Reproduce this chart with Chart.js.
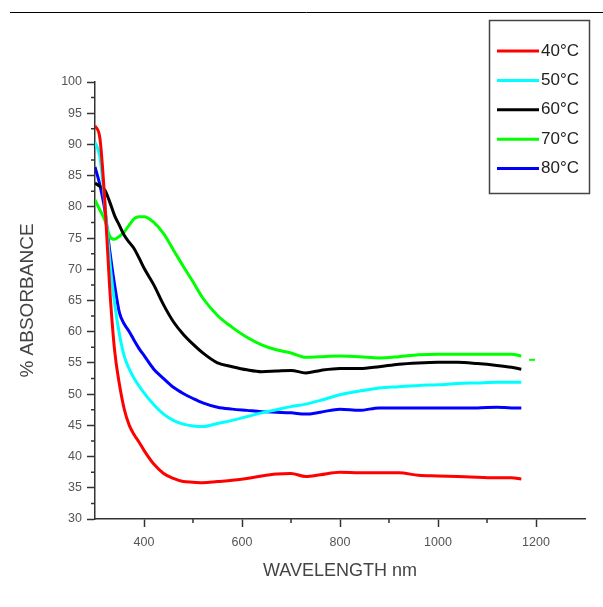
<!DOCTYPE html>
<html>
<head>
<meta charset="utf-8">
<script src="https://cdn.jsdelivr.net/npm/chart.js@4"></script>
<style>
  html, body { margin: 0; padding: 0; background: #fff; }
  canvas { display: block; }
</style>
</head>
<body>
<canvas id="absChart" width="603" height="607"></canvas>
<script>
// wavelength grid (nm) shared by all five curves
const wavelengths = [300, 310, 320, 330, 340, 350, 360, 370, 380, 390, 400, 420, 440, 460, 480,
    500, 520, 550, 580, 610, 640, 670, 700, 730, 760, 800, 840, 880, 920, 960, 1000, 1040, 1080, 1120, 1150, 1170];

const abs40 = [93.0, 91.0, 81.0, 67.0, 57.0, 51.5, 47.5, 45.0, 43.5, 42.3, 41.0, 38.8, 37.3, 36.5, 36.0,
    35.9, 35.8, 36.0, 36.2, 36.5, 36.9, 37.2, 37.3, 36.8, 37.1, 37.5, 37.4, 37.4, 37.4, 37.0, 36.9, 36.8, 36.7, 36.6, 36.6, 36.4];
const abs50 = [90.4, 88.0, 80.6, 71.5, 64.5, 59.5, 56.0, 54.0, 52.5, 51.3, 50.2, 48.3, 46.8, 45.8, 45.2,
    44.9, 44.8, 45.3, 45.8, 46.4, 47.0, 47.5, 48.0, 48.4, 49.0, 49.9, 50.5, 51.0, 51.2, 51.4, 51.5, 51.7, 51.8, 51.9, 51.9, 51.9];
const abs60 = [83.8, 83.3, 82.7, 80.8, 78.6, 77.0, 75.4, 74.3, 73.3, 71.8, 70.2, 67.5, 64.3, 61.6, 59.6,
    58.0, 56.6, 55.0, 54.4, 53.9, 53.6, 53.7, 53.8, 53.4, 53.8, 54.1, 54.1, 54.4, 54.8, 55.0, 55.1, 55.1, 54.9, 54.6, 54.3, 54.0];
const abs70 = [81.1, 79.5, 77.9, 75.3, 74.8, 75.3, 76.0, 77.1, 78.1, 78.4, 78.4, 77.5, 75.7, 73.1, 70.5,
    68.0, 65.4, 62.6, 60.7, 59.1, 57.9, 57.1, 56.6, 55.9, 56.0, 56.1, 56.0, 55.8, 56.0, 56.3, 56.4, 56.4, 56.4, 56.4, 56.4, 56.1];
const abs80 = [86.4, 83.5, 79.5, 73.0, 67.5, 63.0, 61.2, 60.0, 58.6, 57.3, 56.2, 54.0, 52.5, 51.1, 50.1,
    49.3, 48.6, 47.9, 47.6, 47.4, 47.2, 47.1, 47.0, 46.8, 47.1, 47.6, 47.4, 47.8, 47.8, 47.8, 47.8, 47.8, 47.8, 47.9, 47.8, 47.8];

// small stray green dash right of the 70°C curve
const tailWavelengths = [1186, 1198];
const tailAbs70 = [55.5, 55.5];

const seriesLabels = ['40°C', '50°C', '60°C', '70°C', '80°C'];
const seriesColors = ['#ff0000', '#00ffff', '#000000', '#00ff00', '#0000ff'];
const seriesValues = [abs40, abs50, abs60, abs70, abs80];

const xMajorTicks = [400, 600, 800, 1000, 1200];
const xMinorTicks = [500, 700, 900, 1100];
const yMinorTicks = [32.5, 37.5, 42.5, 47.5, 52.5, 57.5, 62.5, 67.5, 72.5, 77.5, 82.5, 87.5, 92.5, 97.5];

function toPoints(xs, ys) {
    return xs.map((x, i) => ({ x: x, y: ys[i] }));
}

const datasets = seriesValues.map((vals, i) => ({
    label: seriesLabels[i],
    data: toPoints(wavelengths, vals),
    borderColor: seriesColors[i],
    borderWidth: 3,
    pointRadius: 0,
    fill: false,
    cubicInterpolationMode: 'monotone'
}));
datasets.push({
    label: '',
    data: toPoints(tailWavelengths, tailAbs70),
    borderColor: '#00ff00',
    borderWidth: 2,
    pointRadius: 0,
    fill: false
});

// top rule, minor ticks and the boxed legend
const framePlugin = {
    id: 'frame',
    beforeDraw(chart) {
        const ctx = chart.ctx;
        ctx.save();
        ctx.strokeStyle = '#000';
        ctx.lineWidth = 1;
        ctx.beginPath();
        ctx.moveTo(10, 12.5);
        ctx.lineTo(603, 12.5);
        ctx.stroke();
        ctx.restore();
    },
    afterDraw(chart) {
        const ctx = chart.ctx;
        const xs = chart.scales.x, ys = chart.scales.y;
        ctx.save();
        ctx.strokeStyle = '#333';
        ctx.lineWidth = 1.5;
        ctx.beginPath();
        yMinorTicks.forEach(v => {
            const py = ys.getPixelForValue(v);
            ctx.moveTo(ys.right - 4, py);
            ctx.lineTo(ys.right, py);
        });
        xMinorTicks.forEach(v => {
            const px = xs.getPixelForValue(v);
            ctx.moveTo(px, xs.top);
            ctx.lineTo(px, xs.top + 4);
        });
        ctx.stroke();

        // legend box
        ctx.strokeStyle = '#444';
        ctx.lineWidth = 1.5;
        ctx.strokeRect(489.5, 20.5, 100, 173);
        ctx.font = '17px "Liberation Sans", Arial, sans-serif';
        ctx.fillStyle = '#222';
        ctx.textBaseline = 'middle';
        chart.data.datasets.forEach((ds, i) => {
            if (!ds.label) return;
            const y = 51 + i * 29.4;
            ctx.strokeStyle = ds.borderColor;
            ctx.lineWidth = 3;
            ctx.beginPath();
            ctx.moveTo(497, y);
            ctx.lineTo(539, y);
            ctx.stroke();
            ctx.fillText(ds.label, 541, y);
        });
        ctx.restore();
    }
};

new Chart(document.getElementById('absChart'), {
    type: 'line',
    data: { datasets: datasets },
    plugins: [framePlugin],
    options: {
        responsive: false,
        animation: false,
        layout: { padding: { top: 82, right: 18, left: 0, bottom: 0 } },
        plugins: {
            legend: { display: false },
            tooltip: { enabled: false }
        },
        scales: {
            x: {
                type: 'linear',
                min: 300,
                max: 1300,
                afterBuildTicks: (scale) => { scale.ticks = xMajorTicks.map(v => ({ value: v })); },
                afterFit: (scale) => { scale.height = 88; },
                border: { color: '#333', width: 1.5 },
                grid: { drawOnChartArea: false, drawTicks: true, tickLength: 8, tickColor: '#333', tickWidth: 1.5 },
                ticks: {
                    padding: 8,
                    color: '#555',
                    maxRotation: 0,
                    callback: (v) => String(v),
                    font: { family: '"Liberation Sans", Arial, sans-serif', size: 12.5 }
                },
                title: {
                    display: true,
                    text: 'WAVELENGTH nm',
                    color: '#444',
                    padding: { bottom: 25 },
                    font: { family: '"Liberation Sans", Arial, sans-serif', size: 18 }
                }
            },
            y: {
                min: 30,
                max: 100,
                afterFit: (scale) => { scale.width = 95; },
                border: { color: '#333', width: 1.5 },
                grid: { drawOnChartArea: false, drawTicks: true, tickLength: 8, tickColor: '#333', tickWidth: 1.5 },
                ticks: {
                    stepSize: 5,
                    padding: 5,
                    color: '#555',
                    font: { family: '"Liberation Sans", Arial, sans-serif', size: 12.5 }
                },
                title: {
                    display: true,
                    text: '% ABSORBANCE',
                    color: '#444',
                    padding: { top: 16 },
                    font: { family: '"Liberation Sans", Arial, sans-serif', size: 19 }
                }
            }
        }
    }
});
</script>
</body>
</html>
